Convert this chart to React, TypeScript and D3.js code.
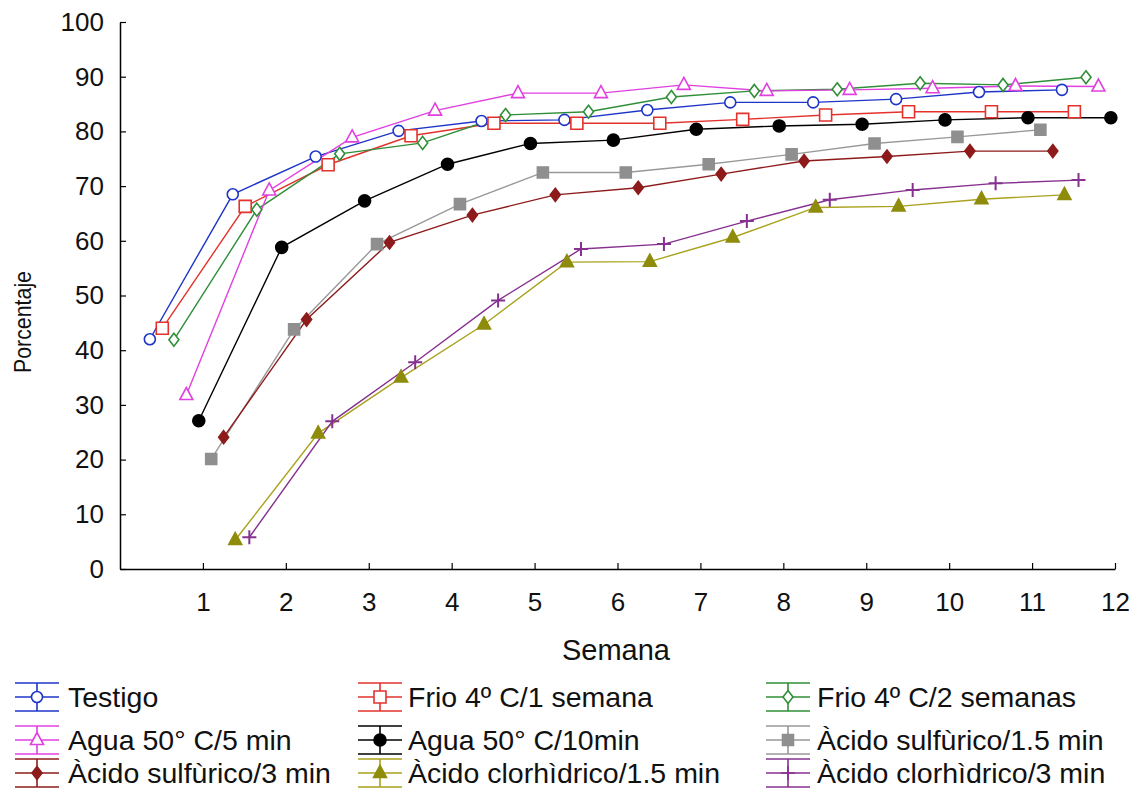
import React, { useEffect, useRef } from "react";
import * as d3 from "d3";

// weeks (x values) and percentages
const weeks12 = [1, 2, 3, 4, 5, 6, 7, 8, 9, 10, 11, 12];
const weeks11 = [1, 2, 3, 4, 5, 6, 7, 8, 9, 10, 11];

const testigo = [42, 68.5, 75.4, 80.1, 81.9, 82.1, 83.9, 85.3, 85.3, 85.9, 87.2, 87.6];
const frio1 = [44, 66.3, 73.9, 79.2, 81.5, 81.5, 81.5, 82.2, 83.0, 83.6, 83.6, 83.6];
const frio2 = [41.9, 65.7, 75.9, 77.9, 83.0, 83.6, 86.3, 87.4, 87.7, 88.8, 88.5, 89.9];
const agua5 = [31.8, 69.2, 78.9, 83.8, 87.0, 87.0, 88.5, 87.4, 87.6, 87.9, 88.3, 88.2];
const agua10 = [27.1, 58.8, 67.3, 74.0, 77.8, 78.4, 80.4, 81.0, 81.3, 82.1, 82.5, 82.5];
const sulf15 = [20.1, 43.8, 59.4, 66.7, 72.5, 72.5, 74.0, 75.8, 77.8, 79.0, 80.3];
const sulf3 = [24.1, 45.6, 59.7, 64.7, 68.4, 69.7, 72.2, 74.6, 75.4, 76.4, 76.4];
const clor15 = [5.3, 24.8, 35.0, 44.7, 56.1, 56.2, 60.6, 66.1, 66.3, 67.6, 68.4];
const clor3 = [5.8, 27.0, 37.8, 49.1, 58.5, 59.4, 63.6, 67.5, 69.3, 70.5, 71.1];

const seriesNames = [
  "Testigo",
  "Frio 4º C/1 semana",
  "Frio 4º C/2 semanas",
  "Agua 50° C/5 min",
  "Agua 50° C/10min",
  "Àcido sulfùrico/1.5 min",
  "Àcido sulfùrico/3 min",
  "Àcido clorhìdrico/1.5 min",
  "Àcido clorhìdrico/3 min",
];
const seriesValues = [testigo, frio1, frio2, agua5, agua10, sulf15, sulf3, clor15, clor3];
const seriesWeeks = [weeks12, weeks12, weeks12, weeks12, weeks12, weeks11, weeks11, weeks11, weeks11];

const yTicks = [0, 10, 20, 30, 40, 50, 60, 70, 80, 90, 100];
const xTicks = [1, 2, 3, 4, 5, 6, 7, 8, 9, 10, 11, 12];

// styling: horizontal dodge (in weeks), colours and markers
const dodge = [-0.64, -0.49, -0.35, -0.2, -0.05, 0.1, 0.25, 0.39, 0.56];
const colors = ["#1f35c8", "#e3322c", "#2f8f37", "#e040e0", "#000000", "#999999", "#8e1b1b", "#a8a21c", "#86308f"];
const markerColors = ["#1f35c8", "#e3322c", "#2f8f37", "#e040e0", "#000000", "#8f8f8f", "#8e1b1b", "#8f8c0c", "#86308f"];
const shapes = ["circle", "square", "diamond", "triangle", "circle", "square", "diamond", "triangle", "plus"];
const filled = [false, false, false, false, true, true, true, true, false];

const W = 1133;
const H = 793;
const FONT = "'Liberation Sans', Arial, sans-serif";

function markerPath(shape: string, filledMark: boolean): string {
  if (shape === "circle") {
    const r = filledMark ? 6 : 5.5;
    return `M${r},0A${r},${r} 0 1,1 ${-r},0A${r},${r} 0 1,1 ${r},0Z`;
  }
  if (shape === "square") {
    const s = filledMark ? 5.5 : 6;
    return `M${-s},${-s}H${s}V${s}H${-s}Z`;
  }
  if (shape === "diamond") {
    return "M0,-6.5L5,0L0,6.5L-5,0Z";
  }
  if (shape === "triangle") {
    return "M0,-7.5L6.5,4.5L-6.5,4.5Z";
  }
  return "M-7,0H7M0,-7V7";
}

export default function App() {
  const ref = useRef<SVGSVGElement>(null);

  useEffect(() => {
    const svg = d3.select(ref.current);
    svg.selectAll("*").remove();

    const x = d3.scaleLinear().domain([0, 12]).range([120, 1115]);
    const y = d3.scaleLinear().domain([0, 100]).range([569, 22]);

    // y axis
    const yAxis = svg.append("g")
      .attr("transform", "translate(120,0)")
      .call(d3.axisLeft(y).tickValues(yTicks).tickSize(-6).tickSizeOuter(0).tickPadding(16));
    yAxis.select(".domain").attr("stroke", "#000").attr("stroke-width", 1.5);
    yAxis.selectAll(".tick line").attr("stroke-width", 1.2);
    yAxis.selectAll("text")
      .attr("font-size", 26)
      .attr("font-family", FONT)
      .attr("fill", "#111");

    // x axis
    const xAxis = svg.append("g")
      .attr("transform", "translate(0,569)")
      .call(d3.axisBottom(x).tickValues(xTicks).tickSize(-6).tickSizeOuter(0).tickPadding(24));
    xAxis.select(".domain").attr("stroke", "#000").attr("stroke-width", 1.5);
    xAxis.selectAll(".tick line").attr("stroke-width", 1.2);
    xAxis.selectAll("text")
      .attr("font-size", 26)
      .attr("font-family", FONT)
      .attr("fill", "#111");

    svg.append("text")
      .attr("x", 616)
      .attr("y", 660)
      .attr("text-anchor", "middle")
      .attr("font-size", 29)
      .attr("font-family", FONT)
      .attr("fill", "#111")
      .text("Semana");

    svg.append("text")
      .attr("transform", "translate(31,322) rotate(-90)")
      .attr("text-anchor", "middle")
      .attr("font-size", 24)
      .attr("font-family", FONT)
      .attr("fill", "#111")
      .attr("textLength", 102)
      .attr("lengthAdjust", "spacingAndGlyphs")
      .text("Porcentaje");

    // lines + markers
    const plot = svg.append("g");
    seriesValues.forEach((vals, i) => {
      const pts = vals.map((v, j) => [seriesWeeks[i][j] + dodge[i], v] as [number, number]);
      const line = d3.line<[number, number]>()
        .x((d) => x(d[0]))
        .y((d) => y(d[1]));
      plot.append("path")
        .datum(pts)
        .attr("d", line)
        .attr("fill", "none")
        .attr("stroke", colors[i])
        .attr("stroke-width", 1.4);
    });
    seriesValues.forEach((vals, i) => {
      const pts = vals.map((v, j) => [seriesWeeks[i][j] + dodge[i], v] as [number, number]);
      plot.selectAll(`.m${i}`)
        .data(pts)
        .join("path")
        .attr("class", `m${i}`)
        .attr("transform", (d) => `translate(${x(d[0])},${y(d[1])})`)
        .attr("d", markerPath(shapes[i], filled[i]))
        .attr("fill", shapes[i] === "plus" ? "none" : filled[i] ? markerColors[i] : "#fff")
        .attr("stroke", markerColors[i])
        .attr("stroke-width", shapes[i] === "plus" ? 2 : 1.6);
    });

    // legend: 3 columns x 3 rows
    const colSym = [37, 380, 788];
    const colText = [68, 408, 817];
    const rowY = [697, 740, 773];
    const legend = svg.append("g");
    seriesNames.forEach((name, i) => {
      const c = i % 3;
      const r = Math.floor(i / 3);
      const cx = colSym[c];
      const cy = rowY[r];
      const g = legend.append("g").attr("stroke", colors[i]).attr("stroke-width", 1.6);
      g.append("line").attr("x1", cx - 22).attr("x2", cx + 22).attr("y1", cy - 14).attr("y2", cy - 14);
      g.append("line").attr("x1", cx - 22).attr("x2", cx + 22).attr("y1", cy + 14).attr("y2", cy + 14);
      g.append("line").attr("x1", cx).attr("x2", cx).attr("y1", cy - 14).attr("y2", cy + 14);
      g.append("line").attr("x1", cx - 22).attr("x2", cx + 22).attr("y1", cy).attr("y2", cy);
      g.append("path")
        .attr("transform", `translate(${cx},${cy})`)
        .attr("d", markerPath(shapes[i], filled[i]))
        .attr("fill", shapes[i] === "plus" ? "none" : filled[i] ? markerColors[i] : "#fff")
        .attr("stroke", markerColors[i]);
      legend.append("text")
        .attr("x", colText[c])
        .attr("y", cy)
        .attr("dy", "0.35em")
        .attr("font-size", 28.5)
        .attr("font-family", FONT)
        .attr("fill", "#111")
        .text(name);
    });
  }, []);

  return (
    <svg
      ref={ref}
      width={W}
      height={H}
      style={{ position: "absolute", left: 0, top: 0, background: "#fff" }}
    />
  );
}
